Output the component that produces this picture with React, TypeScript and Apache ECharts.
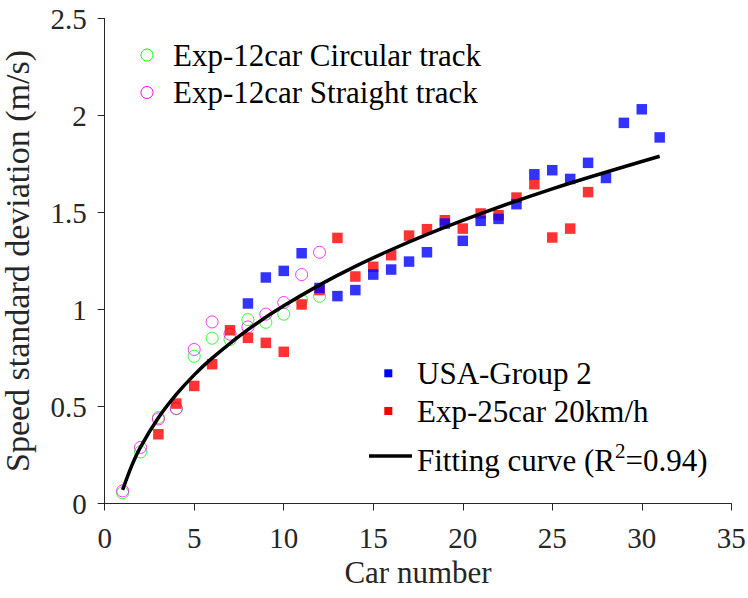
import React, { useEffect, useRef } from "react";
import * as echarts from "echarts";

const FONT = "Liberation Serif";
const AXIS_COLOR = "#262626";

// Exp-12car, circular track
const circularX = [1, 2, 3, 4, 5, 6, 7, 8, 9, 10, 11, 12];
const circularY = [0.055, 0.266, 0.443, 0.488, 0.759, 0.852, 0.845, 0.948, 0.934, 0.976, 1.048, 1.068];

// Exp-12car, straight track
const straightX = [1, 2, 3, 4, 5, 6, 7, 8, 9, 10, 11, 12];
const straightY = [0.065, 0.289, 0.436, 0.49, 0.794, 0.936, 0.873, 0.91, 0.976, 1.036, 1.18, 1.295];

// USA-Group 2
const usaX = [8, 9, 10, 11, 12, 13, 14, 15, 16, 17, 18, 19, 20, 21, 22, 23, 24, 25, 26, 27, 28, 29, 30, 31];
const usaY = [1.031, 1.165, 1.199, 1.29, 1.111, 1.069, 1.1, 1.18, 1.206, 1.247, 1.295, 1.443, 1.354, 1.457, 1.467, 1.543, 1.697, 1.718, 1.673, 1.756, 1.678, 1.962, 2.032, 1.887];

// Exp-25car, 20 km/h
const exp25X = [3, 4, 5, 6, 7, 8, 9, 10, 11, 12, 13, 14, 15, 16, 17, 18, 19, 20, 21, 22, 23, 24, 25, 26, 27];
const exp25Y = [0.357, 0.515, 0.606, 0.718, 0.893, 0.854, 0.828, 0.782, 1.026, 1.1, 1.369, 1.17, 1.22, 1.28, 1.381, 1.414, 1.46, 1.417, 1.495, 1.486, 1.577, 1.646, 1.371, 1.417, 1.605];

// Fitting curve samples
const fitX = [1, 1.5, 2, 3, 4, 5, 6, 8, 10, 13, 16, 20, 25, 31];
const fitY = [0.07, 0.193, 0.291, 0.442, 0.562, 0.663, 0.749, 0.896, 1.019, 1.176, 1.308, 1.459, 1.622, 1.79];

const legendTop = ["Exp-12car Circular track", "Exp-12car Straight track"];
const legendBottom = ["USA-Group 2", "Exp-25car 20km/h"];

const zip = (xs: number[], ys: number[]) => xs.map((x, i) => [x, ys[i]]);

export default function App() {
  const ref = useRef<HTMLDivElement>(null);

  useEffect(() => {
    const chart = echarts.init(ref.current!, null, { renderer: "svg" });

    const axisCommon = {
      type: "value" as const,
      axisLine: { show: true, onZero: false, lineStyle: { color: AXIS_COLOR, width: 1 } },
      axisTick: { show: true, inside: false, length: 7, lineStyle: { color: AXIS_COLOR, width: 1 } },
      splitLine: { show: false },
      nameLocation: "middle" as const,
    };

    const textStyle = { fontFamily: FONT, fontSize: 31, fill: "#000" };

    chart.setOption({
      animation: false,
      backgroundColor: "#fff",
      grid: {
        left: 104.7,
        right: 16.7,
        top: 18.5,
        bottom: 94.5,
        containLabel: false,
        outerBoundsMode: "none",
      },
      xAxis: {
        ...axisCommon,
        min: 0,
        max: 35,
        interval: 5,
        name: "Car number",
        nameGap: 52,
        nameTextStyle: { fontFamily: FONT, fontSize: 31, color: AXIS_COLOR },
        axisLabel: { fontFamily: FONT, fontSize: 29, color: AXIS_COLOR, margin: 20 },
      },
      yAxis: {
        ...axisCommon,
        min: 0,
        max: 2.5,
        interval: 0.5,
        name: "Speed standard deviation (m/s)",
        nameGap: 70,
        nameTextStyle: { fontFamily: FONT, fontSize: 34, color: AXIS_COLOR },
        axisLabel: { fontFamily: FONT, fontSize: 29, color: AXIS_COLOR, margin: 18 },
      },
      series: [
        {
          name: legendTop[0],
          type: "scatter",
          symbol: "circle",
          symbolSize: 12,
          itemStyle: { color: "rgba(0,0,0,0)", borderColor: "#00ff00", borderWidth: 1 },
          data: zip(circularX, circularY),
        },
        {
          name: legendTop[1],
          type: "scatter",
          symbol: "circle",
          symbolSize: 12,
          itemStyle: { color: "rgba(0,0,0,0)", borderColor: "#ff00ff", borderWidth: 1 },
          data: zip(straightX, straightY),
        },
        {
          name: "Fitting curve",
          type: "line",
          smooth: 0.3,
          showSymbol: false,
          lineStyle: { color: "#000", width: 3.5 },
          data: zip(fitX, fitY),
        },
        {
          name: legendBottom[1],
          type: "scatter",
          symbol: "rect",
          symbolSize: 10.5,
          itemStyle: { color: "#ff0000" },
          data: zip(exp25X, exp25Y),
        },
        {
          name: legendBottom[0],
          type: "scatter",
          symbol: "rect",
          symbolSize: 10.5,
          itemStyle: { color: "#0000ff" },
          data: zip(usaX, usaY),
        },
      ],
      graphic: [
        { type: "circle", shape: { cx: 147, cy: 55, r: 6 }, style: { fill: "none", stroke: "#00ff00", lineWidth: 1 } },
        { type: "text", x: 173, y: 55, style: { ...textStyle, text: legendTop[0], verticalAlign: "middle" } },
        { type: "circle", shape: { cx: 147, cy: 92.5, r: 6 }, style: { fill: "none", stroke: "#ff00ff", lineWidth: 1 } },
        { type: "text", x: 173, y: 92.5, style: { ...textStyle, text: legendTop[1], verticalAlign: "middle" } },

        { type: "rect", shape: { x: 384.3, y: 369.3, width: 8, height: 8 }, style: { fill: "#0000ff" } },
        { type: "text", x: 417, y: 373, style: { ...textStyle, text: legendBottom[0], verticalAlign: "middle" } },
        { type: "rect", shape: { x: 384.3, y: 407, width: 8, height: 8 }, style: { fill: "#ff0000" } },
        { type: "text", x: 417, y: 411, style: { ...textStyle, text: legendBottom[1], verticalAlign: "middle" } },
        { type: "line", shape: { x1: 369, y1: 456, x2: 412, y2: 456 }, style: { stroke: "#000", lineWidth: 3.5 } },
        {
          type: "text",
          x: 417,
          y: 458,
          style: {
            text: "{a|Fitting curve (R}{s|2}{a|=0.94)}",
            verticalAlign: "middle",
            fill: "#000",
            rich: {
              a: { fontFamily: FONT, fontSize: 31, lineHeight: 36, verticalAlign: "bottom", fill: "#000" },
              s: { fontFamily: FONT, fontSize: 21, lineHeight: 36, verticalAlign: "top", fill: "#000" },
            },
          },
        },
      ],
    });

    return () => chart.dispose();
  }, []);

  return (
    <div
      ref={ref}
      style={{ position: "absolute", left: 0, top: 0, width: 748, height: 598 }}
    />
  );
}
